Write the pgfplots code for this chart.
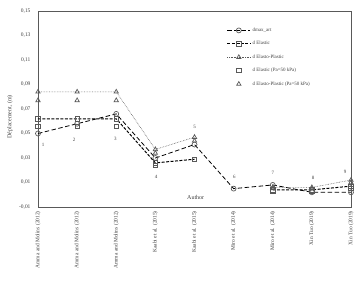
\documentclass[border=0pt]{standalone}
\usepackage{pgfplots}
\pgfplotsset{compat=1.18}
\usepackage{fontspec}
\setmainfont{Liberation Serif}
\definecolor{axgray}{HTML}{595959}
\definecolor{txtgray}{HTML}{404040}
\begin{document}
\begin{tikzpicture}
\begin{axis}[
  scale only axis, width=313bp, height=196bp,
  xmin=1, xmax=9, ymin=-0.01, ymax=0.15,
  xtick={1,...,9},
  xticklabels={Amma and Molins (2012),Amma and Molins (2012),Amma and Molins (2012),Kaabi et al. (2015),Kaabi et al. (2015),Miro et al. (2014),Miro et al. (2014),Xin Tuo (2019),Xin Tuo (2019)},
  x tick label style={rotate=90, anchor=east, font=\fontsize{5.5}{6}\selectfont, inner sep=1pt, text=txtgray},
  xticklabel shift=3bp,
  ytick={-0.01,0.01,0.03,0.05,0.07,0.09,0.11,0.13,0.15},
  y tick label style={font=\fontsize{5.5}{6}\selectfont, text=txtgray, /pgf/number format/fixed, /pgf/number format/fixed zerofill, /pgf/number format/precision=2, /pgf/number format/use comma, /pgf/number format/assume math mode=true},
  yticklabel shift=4bp,
  major tick length=0pt,
  axis line style={axgray, line width=0.8pt},
  clip=false,
  legend style={at={(rel axis cs:0.6,0.93)}, anchor=north west, draw=none, fill=none,
    font=\fontsize{5}{6}\selectfont, row sep=4.5pt, inner sep=1pt, text=txtgray},
  legend cell align=left,
  legend image code/.code={%
    \draw[mark repeat=2,mark phase=2,#1] plot coordinates {(0cm,0cm) (0.4cm,0cm) (0.8cm,0cm)};},
]
\coordinate (ll) at (rel axis cs:0,0);
\coordinate (ur) at (rel axis cs:1,1);
% dmax_art
\addplot[black, line width=0.8pt, dash pattern=on 4.5pt off 2.5pt, mark=o, mark size=2.5pt, mark options={solid, fill=white, draw=axgray, line width=0.7pt}]
  coordinates {(1,0.050) (2,0.058) (3,0.066) (4,0.030) (5,0.041) (6,0.005) (7,0.008) (8,0.002) (9,0.002)};
\addlegendentry{dmax\_art}
% d Elastic
\addplot[black, line width=1pt, dash pattern=on 3pt off 1.5pt, mark=square, mark size=2.2pt, mark options={solid, fill=white, draw=axgray, line width=0.7pt}, unbounded coords=jump]
  coordinates {(1,0.062) (2,0.062) (3,0.062) (4,0.026) (5,0.029) (6,nan) (7,0.004) (8,0.004) (9,0.007)};
\addlegendentry{d Elastic}
% d Elasto-Plastic
\addplot[axgray, line width=0.6pt, densely dotted, mark=triangle, mark size=2.5pt, mark options={solid, draw=axgray, line width=0.7pt}, unbounded coords=jump]
  coordinates {(1,0.084) (2,0.084) (3,0.084) (4,0.037) (5,0.047) (6,nan) (7,0.006) (8,0.006) (9,0.012)};
\addlegendentry{d Elasto-Plastic}
% d Elastic (Pa=50 kPa)
\addplot[only marks, mark=square, mark size=2.2pt, mark options={draw=axgray, line width=0.7pt}]
  coordinates {(1,0.056) (2,0.056) (3,0.056) (4,0.024) (7,0.003) (8,0.003) (9,0.005)};
\addlegendentry{d Elastic (Pa=50 kPa)}
% d Elasto-Plastic (Pa=50 kPa)
\addplot[only marks, mark=triangle, mark size=2.5pt, mark options={draw=axgray, line width=0.7pt}]
  coordinates {(1,0.077) (2,0.077) (3,0.077) (4,0.034) (5,0.044) (7,0.005) (8,0.005) (9,0.010)};
\addlegendentry{d Elasto-Plastic (Pa=50 kPa)}
% point numbers
\begin{scope}[font=\fontsize{5}{6}\selectfont, text=txtgray]
\node at (axis cs:1.13,0.041) {1};
\node at (axis cs:1.92,0.045) {2};
\node at (axis cs:2.98,0.046) {3};
\node at (axis cs:4.02,0.015) {4};
\node at (axis cs:5.0,0.055) {5};
\node at (axis cs:6.02,0.015) {6};
\node at (axis cs:7.0,0.018) {7};
\node at (axis cs:8.03,0.014) {8};
\node at (axis cs:8.85,0.019) {9};
\end{scope}
\node[font=\fontsize{6}{7}\selectfont, text=txtgray] at (axis cs:5.03,-0.0018) {Author};
\node[rotate=90, font=\fontsize{6}{7}\selectfont, text=txtgray] at ([xshift=-28bp]rel axis cs:0,0.46) {Déplacement, (m)};
\end{axis}
\pgfresetboundingbox
\path ([shift={(-38bp,-83bp)}]ll) rectangle ([shift={(7bp,11bp)}]ur);
\end{tikzpicture}
\end{document}
